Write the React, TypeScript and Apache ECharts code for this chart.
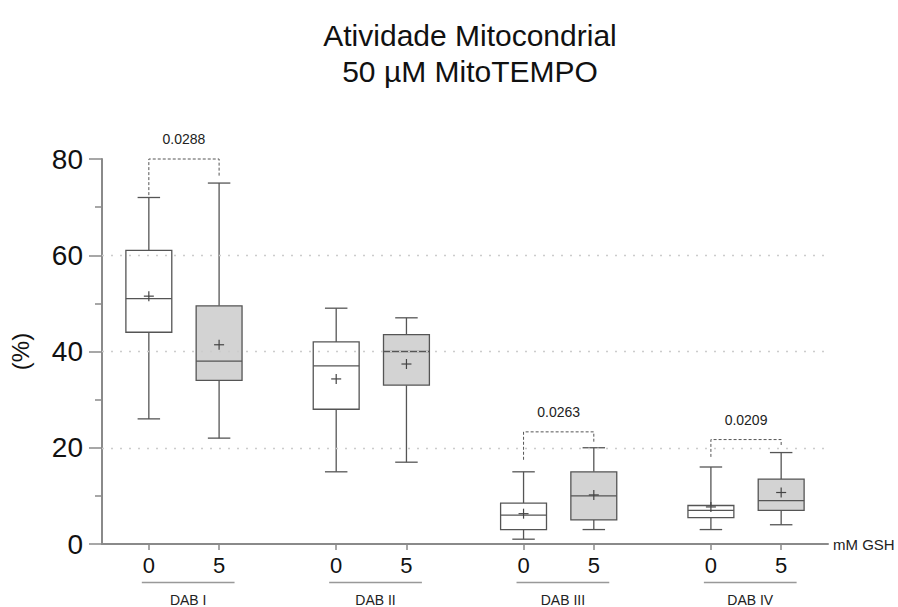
import React, { useEffect, useRef } from "react";
import * as echarts from "echarts";

const groups = ["DAB I", "DAB II", "DAB III", "DAB IV"];
const gshLevels = ["0", "5", "0", "5", "0", "5", "0", "5"];
const positions = [0, 1.5, 4, 5.5, 8, 9.5, 12, 13.5];
const minV = [26, 22, 15, 17, 1, 3, 3, 4];
const q1V = [44, 34, 28, 33, 3, 5, 5.5, 7];
const medV = [51, 38, 37, 40, 6, 10, 7, 9];
const q3V = [61, 49.5, 42, 43.5, 8.5, 15, 8, 13.5];
const maxV = [72, 75, 49, 47, 15, 20, 16, 19];
const meanV = [51.5, 41.4, 34.3, 37.4, 6.3, 10.2, 7.7, 10.7];

const pLabels = ["0.0288", "0.0263", "0.0209"];
const pGroup = [0, 2, 3];
const pTop = [80, 23.3, 21.7];
const pLegLeft = [72.5, 17.5, 18.1];
const pLegRight = [76.5, 21.2, 20.2];

const yTicks = [20, 40, 60];

const FONT = "'Liberation Sans', Arial, Helvetica, sans-serif";

export default function App() {
  const ref = useRef<HTMLDivElement>(null);
  useEffect(() => {
    if (!ref.current) return;
    const chart = echarts.init(ref.current, null, { renderer: "svg" });

    const boxData = positions.map((p, i) => [p, minV[i], q1V[i], medV[i], q3V[i], maxV[i], meanV[i], i % 2]);
    const bracketData = pLabels.map((_, i) => [positions[pGroup[i] * 2], positions[pGroup[i] * 2 + 1], pTop[i], pLegLeft[i], pLegRight[i], i]);
    const groupData = groups.map((_, i) => [positions[i * 2], positions[i * 2 + 1], i]);

    const option: any = {
      animation: false,
      title: {
        text: "Atividade Mitocondrial\n50 µM MitoTEMPO",
        left: 465,
        top: 12,
        textAlign: "center",
        textStyle: { fontFamily: FONT, fontSize: 30, fontWeight: "normal", color: "#111", lineHeight: 36 },
      },
      grid: { left: 102, right: 70, top: 159, bottom: 63 },
      xAxis: {
        type: "value",
        min: -1,
        max: 14.5,
        name: "mM GSH",
        nameLocation: "end",
        nameGap: 5,
        nameTextStyle: { fontFamily: FONT, fontSize: 15, color: "#222" },
        axisLine: { show: true, onZero: false, lineStyle: { color: "#8a8a8a", width: 2 } },
        axisTick: { show: true, customValues: positions, length: 6, lineStyle: { color: "#8a8a8a", width: 1.5 } },
        axisLabel: {
          customValues: positions,
          fontFamily: FONT,
          fontSize: 22,
          color: "#111",
          margin: 10,
          formatter: (v: number) => {
            const idx = positions.indexOf(v);
            return idx >= 0 ? gshLevels[idx] : "";
          },
        },
        splitLine: { show: false },
      },
      yAxis: {
        type: "value",
        min: 0,
        max: 80,
        interval: 20,
        name: "(%)",
        nameLocation: "middle",
        nameGap: 70,
        nameTextStyle: { fontFamily: FONT, fontSize: 24, color: "#111" },
        axisLine: { show: true, onZero: false, lineStyle: { color: "#8a8a8a", width: 2 } },
        axisTick: { show: true, length: 13, lineStyle: { color: "#8a8a8a", width: 1.5 } },
        minorTick: { show: true, splitNumber: 2, length: 7, lineStyle: { color: "#8a8a8a", width: 1.5 } },
        axisLabel: { fontFamily: FONT, fontSize: 28, color: "#111", margin: 19 },
        splitLine: { show: false },
      },
      series: [
        {
          type: "custom",
          name: "boxes",
          data: boxData,
          renderItem: (params: any, api: any) => {
            const x = api.value(0);
            const fill = api.value(7) === 1 ? "#d3d3d3" : "#ffffff";
            const unit = api.size([1, 0])[0];
            const hw = unit * 0.49;
            const cw = unit * 0.24;
            const pMin = api.coord([x, api.value(1)]);
            const pQ1 = api.coord([x, api.value(2)]);
            const pMed = api.coord([x, api.value(3)]);
            const pQ3 = api.coord([x, api.value(4)]);
            const pMax = api.coord([x, api.value(5)]);
            const pMean = api.coord([x, api.value(6)]);
            const cx = pMed[0];
            const stroke = "#555";
            const ls = { stroke, lineWidth: 1.3 };
            return {
              type: "group",
              children: [
                { type: "line", shape: { x1: cx, y1: pMax[1], x2: cx, y2: pQ3[1] }, style: ls },
                { type: "line", shape: { x1: cx, y1: pQ1[1], x2: cx, y2: pMin[1] }, style: ls },
                { type: "line", shape: { x1: cx - cw, y1: pMax[1], x2: cx + cw, y2: pMax[1] }, style: ls },
                { type: "line", shape: { x1: cx - cw, y1: pMin[1], x2: cx + cw, y2: pMin[1] }, style: ls },
                {
                  type: "rect",
                  shape: { x: cx - hw, y: pQ3[1], width: hw * 2, height: pQ1[1] - pQ3[1] },
                  style: { fill, stroke, lineWidth: 1.3 },
                },
                { type: "line", shape: { x1: cx - hw, y1: pMed[1], x2: cx + hw, y2: pMed[1] }, style: ls },
                { type: "line", shape: { x1: cx - 5, y1: pMean[1], x2: cx + 5, y2: pMean[1] }, style: { stroke: "#444", lineWidth: 1.2 } },
                { type: "line", shape: { x1: cx, y1: pMean[1] - 5, x2: cx, y2: pMean[1] + 5 }, style: { stroke: "#444", lineWidth: 1.2 } },
              ],
            };
          },
          markLine: {
            silent: true,
            symbol: "none",
            label: { show: false },
            lineStyle: { type: [2, 7], color: "#cccccc", width: 1.3 },
            data: yTicks.map((v) => ({ yAxis: v })),
          },
          z: 3,
        },
        {
          type: "custom",
          name: "brackets",
          data: bracketData,
          renderItem: (params: any, api: any) => {
            const a = api.coord([api.value(0), api.value(2)]);
            const b = api.coord([api.value(1), api.value(2)]);
            const l = api.coord([api.value(0), api.value(3)]);
            const r = api.coord([api.value(1), api.value(4)]);
            const label = pLabels[api.value(5)];
            return {
              type: "group",
              children: [
                {
                  type: "polyline",
                  shape: { points: [[l[0], l[1]], [a[0], a[1]], [b[0], b[1]], [r[0], r[1]]] },
                  style: { stroke: "#555", lineWidth: 1, lineDash: [3, 2], fill: "none" },
                },
                {
                  type: "text",
                  x: (a[0] + b[0]) / 2,
                  y: a[1] - 20,
                  style: { text: label, fontFamily: FONT, fontSize: 14, fill: "#222", align: "center", verticalAlign: "middle" },
                },
              ],
            };
          },
          z: 4,
        },
        {
          type: "custom",
          name: "groups",
          data: groupData,
          renderItem: (params: any, api: any) => {
            const p0 = api.coord([api.value(0) - 0.15, 0]);
            const p1 = api.coord([api.value(1) + 0.33, 0]);
            const label = groups[api.value(2)];
            return {
              type: "group",
              children: [
                { type: "line", shape: { x1: p0[0], y1: p0[1] + 38.5, x2: p1[0], y2: p0[1] + 38.5 }, style: { stroke: "#999", lineWidth: 1.5 } },
                {
                  type: "text",
                  x: (p0[0] + p1[0]) / 2,
                  y: p0[1] + 56,
                  style: { text: label, fontFamily: FONT, fontSize: 14, fill: "#222", align: "center", verticalAlign: "middle" },
                },
              ],
            };
          },
          z: 4,
        },
      ],
    };
    chart.setOption(option);
    return () => chart.dispose();
  }, []);
  return <div ref={ref} style={{ position: "fixed", left: 0, top: 0, width: 898, height: 607, background: "#fff" }} />;
}
